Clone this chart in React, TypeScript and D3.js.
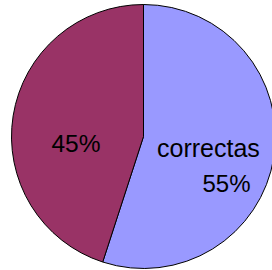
import React from "react";
import * as d3 from "d3";

const categories = ["correctas", ""];
const values = [55, 45];
const colors = ["#9999FF", "#993366"];

const App = () => {
  const width = 272;
  const height = 270;
  const cx = 143.5;
  const cy = 136.5;
  const r = 132;

  const pie = d3.pie<number>().sort(null).value((d) => d);
  const arcs = pie(values);
  const arc = d3.arc<d3.PieArcDatum<number>>().innerRadius(0).outerRadius(r);

  return (
    <svg
      width={width}
      height={height}
      style={{ position: "absolute", left: 0, top: 0 }}
      fontFamily="Liberation Sans, Arial, sans-serif"
    >
      <g transform={`translate(${cx},${cy})`}>
        {arcs.map((a, i) => (
          <path key={i} d={arc(a) || ""} fill={colors[i]} stroke="#000" strokeWidth={1} />
        ))}
      </g>
      {/* labels */}
      <text x={157} y={156.5} fontSize={25} fill="#000">
        {categories[0]}
      </text>
      <text x={226.5} y={191.5} fontSize={24} fill="#000" textAnchor="middle">
        {values[0]}%
      </text>
      <text x={76} y={152.3} fontSize={24.5} fill="#000" textAnchor="middle">
        {values[1]}%
      </text>
    </svg>
  );
};

export default App;
